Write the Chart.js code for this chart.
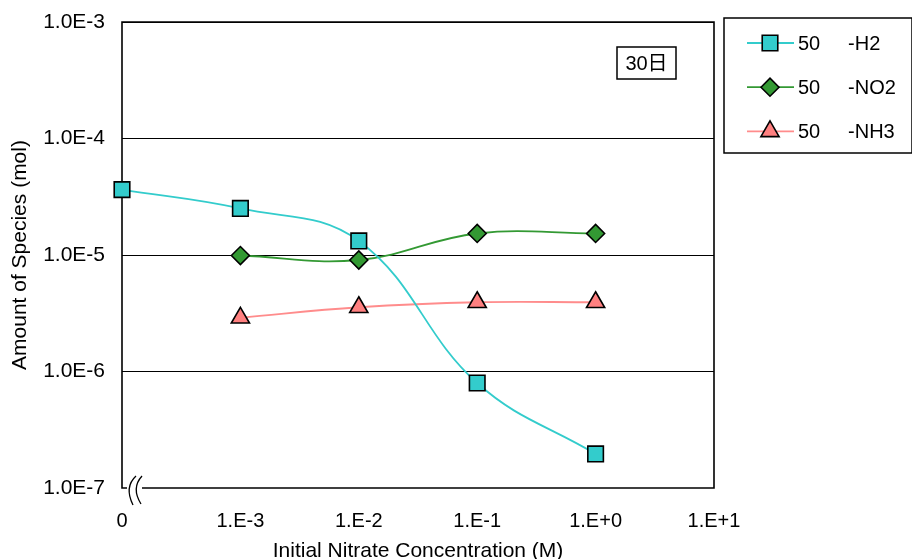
<!DOCTYPE html>
<html>
<head>
<meta charset="utf-8">
<script src="https://cdn.jsdelivr.net/npm/chart.js@4/dist/chart.umd.min.js"></script>
<style>
  html, body { margin: 0; padding: 0; background: #fff; }
  #wrap { width: 912px; height: 559px; }
</style>
</head>
<body>
<div id="wrap"><canvas id="chart"></canvas></div>
<script>
// categories on the x axis (evenly spaced positions 0..5)
const xLabels = ["0", "1.E-3", "1.E-2", "1.E-1", "1.E+0", "1.E+1"];
const yTicks = [1e-7, 1e-6, 1e-5, 1e-4, 1e-3];
const yTickLabels = ["1.0E-7", "1.0E-6", "1.0E-5", "1.0E-4", "1.0E-3"];

// series (x index, value in mol)
const h2X = [0, 1, 2, 3, 4];
const h2Y = [3.64e-5, 2.51e-5, 1.32e-5, 7.96e-7, 1.96e-7];
const no2X = [1, 2, 3, 4];
const no2Y = [9.9e-6, 9.06e-6, 1.53e-5, 1.53e-5];
const nh3X = [1, 2, 3, 4];
const nh3Y = [2.89e-6, 3.56e-6, 3.93e-6, 3.93e-6];

const seriesNames = ["50     -H2", "50     -NO2", "50     -NH3"];
const boxLabel = "30日";

const FONT = "'Liberation Sans', Arial, 'Noto Sans CJK JP', sans-serif";

const pts = (xs, ys) => xs.map((x, i) => ({ x, y: ys[i] }));

function marker(ctx, style, r, x, y) {
  ctx.beginPath();
  if (style === "rect") {
    const s = r * Math.SQRT1_2;
    ctx.rect(x - s, y - s, 2 * s, 2 * s);
  } else if (style === "rectRot") {
    ctx.moveTo(x - r, y); ctx.lineTo(x, y - r); ctx.lineTo(x + r, y); ctx.lineTo(x, y + r);
    ctx.closePath();
  } else if (style === "triangle") {
    ctx.moveTo(x, y - r);
    ctx.lineTo(x + r * Math.sin(2 * Math.PI / 3), y + r / 2);
    ctx.lineTo(x - r * Math.sin(2 * Math.PI / 3), y + r / 2);
    ctx.closePath();
  }
  ctx.fill();
  ctx.stroke();
}

// frame of the plot area with the axis break at bottom left
const framePlugin = {
  id: "frame",
  beforeDatasetsDraw(chart) {
    const { ctx, chartArea: a } = chart;
    ctx.save();
    ctx.strokeStyle = "#000";
    ctx.lineWidth = 1.6;
    ctx.beginPath();
    ctx.moveTo(a.left + 5, a.bottom);
    ctx.lineTo(a.left, a.bottom);
    ctx.lineTo(a.left, a.top);
    ctx.lineTo(a.right, a.top);
    ctx.lineTo(a.right, a.bottom);
    ctx.lineTo(a.left + 20, a.bottom);
    ctx.stroke();
    ctx.lineWidth = 1.3;
    ctx.beginPath();
    ctx.moveTo(a.left + 14, a.bottom - 12);
    ctx.quadraticCurveTo(a.left + 2, a.bottom - 1, a.left + 11, a.bottom + 17);
    ctx.moveTo(a.left + 20, a.bottom - 12);
    ctx.quadraticCurveTo(a.left + 9, a.bottom, a.left + 19, a.bottom + 16);
    ctx.stroke();
    ctx.restore();
  },
  afterDraw(chart) {
    const { ctx, chartArea: a } = chart;
    ctx.save();
    // "30日" box
    ctx.font = "20px " + FONT;
    const bx = a.right - 97, by = a.top + 25, bw = 59, bh = 32;
    ctx.fillStyle = "#fff";
    ctx.fillRect(bx, by, bw, bh);
    ctx.strokeStyle = "#000";
    ctx.lineWidth = 1.5;
    ctx.strokeRect(bx, by, bw, bh);
    ctx.fillStyle = "#000";
    ctx.textAlign = "center";
    ctx.textBaseline = "middle";
    ctx.fillText(boxLabel, bx + bw / 2, by + bh / 2 + 1);

    // legend
    const lx = a.right + 10, ly = a.top - 4, lw = 188, lh = 135;
    ctx.lineWidth = 1.5;
    ctx.strokeRect(lx, ly, lw, lh);
    ctx.textAlign = "left";
    chart.data.datasets.forEach((ds, i) => {
      const y = ly + 25 + i * 44.2;
      ctx.strokeStyle = ds.borderColor;
      ctx.lineWidth = ds.borderWidth;
      ctx.beginPath();
      ctx.moveTo(lx + 23, y);
      ctx.lineTo(lx + 70, y);
      ctx.stroke();
      ctx.fillStyle = ds.pointBackgroundColor;
      ctx.strokeStyle = ds.pointBorderColor;
      ctx.lineWidth = ds.pointBorderWidth;
      marker(ctx, ds.pointStyle, ds.pointRadius, lx + 46, y);
      ctx.fillStyle = "#000";
      ctx.fillText(ds.label, lx + 74, y + 1);
    });
    ctx.restore();
  }
};

const common = {
  borderWidth: 1.8,
  pointBorderColor: "#000",
  pointBorderWidth: 1.6,
  pointHoverRadius: 11,
  tension: 0.4,
  clip: false
};

new Chart(document.getElementById("chart"), {
  type: "line",
  data: {
    datasets: [
      {
        ...common,
        label: seriesNames[0],
        data: pts(h2X, h2Y),
        borderColor: "#33CCCC",
        pointBackgroundColor: "#33CCCC",
        pointStyle: "rect",
        pointRadius: 11
      },
      {
        ...common,
        label: seriesNames[1],
        data: pts(no2X, no2Y),
        borderColor: "#339933",
        pointBackgroundColor: "#339933",
        pointStyle: "rectRot",
        pointRadius: 9
      },
      {
        ...common,
        label: seriesNames[2],
        data: pts(nh3X, nh3Y),
        borderColor: "#FF8C8C",
        pointBackgroundColor: "#FF8080",
        pointStyle: "triangle",
        pointRadius: 10.5
      }
    ]
  },
  options: {
    responsive: true,
    maintainAspectRatio: false,
    animation: false,
    layout: { autoPadding: false, padding: { left: 0, right: 198, top: 22, bottom: 0 } },
    plugins: {
      legend: { display: false },
      tooltip: { enabled: false }
    },
    scales: {
      x: {
        type: "linear",
        min: 0,
        max: 5,
        afterBuildTicks: (s) => { s.ticks = xLabels.map((_, i) => ({ value: i })); },
        afterFit: (s) => { s.height = 71; },
        grid: { display: false, drawTicks: false },
        border: { display: false },
        ticks: {
          color: "#000",
          padding: 21,
          maxRotation: 0,
          autoSkip: false,
          font: { size: 20, family: FONT },
          callback: (v) => xLabels[v]
        },
        title: {
          display: true,
          text: "Initial Nitrate Concentration (M)",
          color: "#000",
          font: { size: 21, family: FONT },
          padding: { top: 0, bottom: -5 }
        }
      },
      y: {
        type: "logarithmic",
        min: 1e-7,
        max: 1e-3,
        afterBuildTicks: (s) => { s.ticks = yTicks.map((v) => ({ value: v })); },
        afterFit: (s) => { s.width = 122; s.paddingTop = 0; s.paddingBottom = 0; },
        grid: {
          drawTicks: false,
          lineWidth: 1,
          color: (c) => (c.tick && c.tick.value <= 1e-7 ? "rgba(0,0,0,0)" : "#000")
        },
        border: { display: false },
        ticks: {
          color: "#000",
          padding: 17,
          autoSkip: false,
          font: { size: 21, family: FONT },
          callback: (v) => {
            const i = yTicks.findIndex((t) => Math.abs(Math.log10(t) - Math.log10(v)) < 1e-6);
            return i >= 0 ? yTickLabels[i] : "";
          }
        },
        title: {
          display: true,
          text: "Amount of Species (mol)",
          color: "#000",
          font: { size: 21, family: FONT },
          padding: { top: 8, bottom: 0 }
        }
      }
    }
  },
  plugins: [framePlugin]
});
</script>
</body>
</html>
